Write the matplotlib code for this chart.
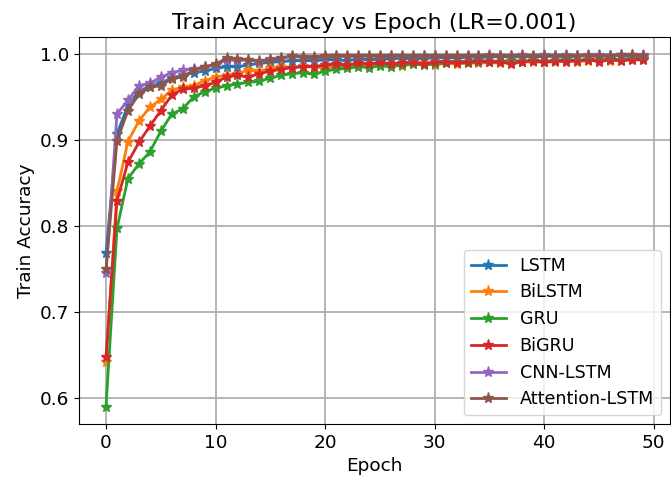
import numpy as np
import matplotlib
matplotlib.use("Agg")
import matplotlib.pyplot as plt
from matplotlib.ticker import MultipleLocator

plt.rcParams['font.size'] = 13.3

epochs = np.arange(50)

lstm = [0.768, 0.907, 0.940, 0.957, 0.962, 0.966, 0.972, 0.975, 0.978, 0.980,
        0.983, 0.985, 0.985, 0.987, 0.989, 0.990, 0.991, 0.992, 0.992, 0.992,
        0.993, 0.993, 0.992, 0.994, 0.993, 0.994, 0.994, 0.995, 0.994, 0.995,
        0.995, 0.996, 0.995, 0.996, 0.996, 0.996, 0.997, 0.996, 0.997, 0.996,
        0.997, 0.997, 0.997, 0.997, 0.998, 0.997, 0.998, 0.998, 0.997, 0.998]
bilstm = [0.642, 0.840, 0.898, 0.922, 0.938, 0.947, 0.958, 0.961, 0.963, 0.969,
          0.973, 0.975, 0.977, 0.981, 0.980, 0.983, 0.985, 0.984, 0.986, 0.985,
          0.983, 0.986, 0.985, 0.987, 0.986, 0.987, 0.988, 0.986, 0.988, 0.989,
          0.987, 0.989, 0.988, 0.990, 0.989, 0.990, 0.989, 0.990, 0.991, 0.990,
          0.991, 0.990, 0.992, 0.991, 0.992, 0.993, 0.992, 0.993, 0.994, 0.995]
gru = [0.590, 0.797, 0.855, 0.872, 0.886, 0.910, 0.930, 0.936, 0.950, 0.956,
       0.960, 0.963, 0.965, 0.967, 0.968, 0.972, 0.975, 0.977, 0.978, 0.976,
       0.980, 0.982, 0.983, 0.985, 0.984, 0.986, 0.985, 0.987, 0.988, 0.987,
       0.988, 0.989, 0.990, 0.989, 0.990, 0.991, 0.990, 0.992, 0.991, 0.992,
       0.991, 0.992, 0.993, 0.992, 0.993, 0.992, 0.994, 0.993, 0.994, 0.994]
bigru = [0.648, 0.829, 0.874, 0.897, 0.916, 0.934, 0.952, 0.959, 0.960, 0.963,
         0.967, 0.973, 0.975, 0.973, 0.977, 0.980, 0.982, 0.984, 0.985, 0.985,
         0.987, 0.988, 0.987, 0.989, 0.988, 0.990, 0.988, 0.989, 0.990, 0.988,
         0.990, 0.991, 0.989, 0.990, 0.992, 0.990, 0.991, 0.988, 0.991, 0.992,
         0.990, 0.992, 0.991, 0.992, 0.993, 0.991, 0.993, 0.992, 0.993, 0.993]
cnn_lstm = [0.745, 0.930, 0.946, 0.963, 0.966, 0.973, 0.978, 0.981, 0.982, 0.985,
            0.987, 0.993, 0.992, 0.993, 0.991, 0.994, 0.995, 0.997, 0.996, 0.995,
            0.996, 0.997, 0.997, 0.998, 0.997, 0.998, 0.998, 0.997, 0.998, 0.998,
            0.997, 0.998, 0.998, 0.997, 0.998, 0.999, 0.998, 0.998, 0.999, 0.998,
            0.999, 0.998, 0.999, 0.998, 0.999, 0.999, 0.998, 0.999, 0.999, 0.999]
attention_lstm = [0.750, 0.899, 0.934, 0.953, 0.961, 0.963, 0.971, 0.973, 0.981, 0.985,
                  0.988, 0.995, 0.994, 0.993, 0.992, 0.993, 0.995, 0.998, 0.996, 0.996,
                  0.997, 0.997, 0.998, 0.997, 0.998, 0.997, 0.998, 0.998, 0.997, 0.998,
                  0.997, 0.998, 0.997, 0.998, 0.998, 0.998, 0.997, 0.998, 0.998, 0.997,
                  0.998, 0.998, 0.997, 0.998, 0.998, 0.997, 0.998, 0.999, 0.999, 0.998]

series = [("LSTM", lstm), ("BiLSTM", bilstm), ("GRU", gru), ("BiGRU", bigru),
          ("CNN-LSTM", cnn_lstm), ("Attention-LSTM", attention_lstm)]

fig, ax = plt.subplots(figsize=(6.71, 4.82), dpi=100)
for name, acc in series:
    ax.plot(epochs, acc, marker="*", markersize=8, linewidth=2, label=name)

ax.set_title("Train Accuracy vs Epoch (LR=0.001)", fontsize=16)
ax.set_xlabel("Epoch")
ax.set_ylabel("Train Accuracy")
ax.yaxis.set_major_locator(MultipleLocator(0.1))
ax.grid(True, color="#b0b0b0", linewidth=1.3)
ax.legend(loc="lower right", fontsize=12.6)
fig.subplots_adjust(left=0.118, right=0.998, top=0.923, bottom=0.120)
fig.savefig("out.png")
